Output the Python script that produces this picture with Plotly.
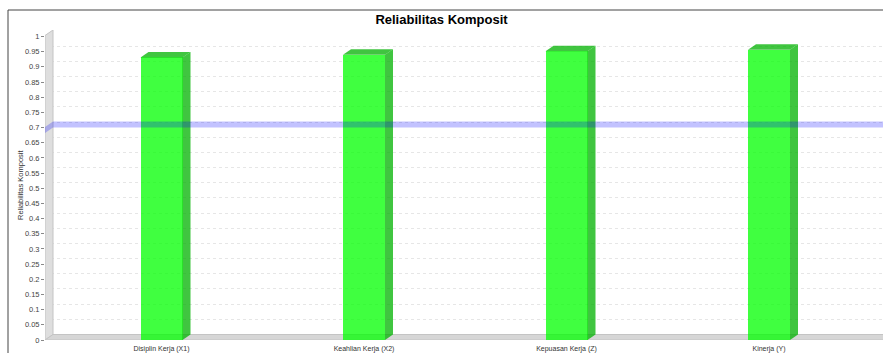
import plotly.graph_objects as go

# ---------------- data ----------------
categories = ["Disiplin Kerja (X1)", "Keahlian Kerja (X2)", "Kepuasan Kerja (Z)", "Kinerja (Y)"]
reliability = [0.931, 0.940, 0.951, 0.956]
threshold = 0.7
y_tick_values = [0, 0.05, 0.1, 0.15, 0.2, 0.25, 0.3, 0.35, 0.4, 0.45, 0.5,
                 0.55, 0.6, 0.65, 0.7, 0.75, 0.8, 0.85, 0.9, 0.95, 1]
y_tick_labels = ["0", "0.05", "0.1", "0.15", "0.2", "0.25", "0.3", "0.35", "0.4", "0.45", "0.5",
                 "0.55", "0.6", "0.65", "0.7", "0.75", "0.8", "0.85", "0.9", "0.95", "1"]
title_text = "Reliabilitas Komposit"
y_title = "Reliabilitas Komposit"

# ---------------- geometry ----------------
W, H = 883, 353
ML, MR, MT, MB = 45, 0, 30, 13
plot_w = W - ML - MR
plot_h = H - MT - MB
cat_px = 202.5          # pixels per category
first_px = 161.5        # pixel of first category centre
unit_px = 303.5         # pixels per 1.0 on value axis
x_lo = (ML - first_px) / cat_px
x_hi = (W - MR - first_px) / cat_px
y_hi = plot_h / unit_px
DX = 8 / cat_px         # 3D depth offset (x)
DY = 5.5 / unit_px      # 3D depth offset (y)
bar_w = 42 / cat_px
band_w = 6 / unit_px

FONT = "Liberation Sans, Arial, sans-serif"
xs = list(range(len(categories)))

fig = go.Figure()

# front faces
fig.add_trace(go.Bar(
    x=xs, y=reliability, width=bar_w,
    marker=dict(color="rgba(0,255,0,0.75)", line=dict(width=0)),
    hoverinfo="skip", showlegend=False,
))

# side and top faces
side_col = "rgba(0,178,0,0.75)"
for i, v in zip(xs, reliability):
    xl, xr = i - bar_w / 2, i + bar_w / 2
    fig.add_trace(go.Scatter(
        x=[xr, xr + DX, xr + DX, xr, xr], y=[0, DY, v + DY, v, 0],
        fill="toself", fillcolor=side_col, mode="lines", line=dict(width=0),
        hoverinfo="skip", showlegend=False))
    fig.add_trace(go.Scatter(
        x=[xl, xl + DX, xr + DX, xr, xl], y=[v, v + DY, v + DY, v, v],
        fill="toself", fillcolor=side_col, mode="lines", line=dict(width=0),
        hoverinfo="skip", showlegend=False))

# dummy trace for back-plane grid axis
fig.add_trace(go.Scatter(x=[x_lo], y=[0], yaxis="y2", mode="markers",
                         marker=dict(opacity=0), hoverinfo="skip", showlegend=False))

shapes = []
# left wall
shapes.append(dict(
    type="path", xref="x", yref="y", layer="between",
    path=f"M {x_lo},0 L {x_lo + DX},{DY} L {x_lo + DX},{y_hi} L {x_lo},{y_hi - DY} Z",
    fillcolor="#dedede", line=dict(color="#c4c4c4", width=1)))
# floor
shapes.append(dict(
    type="path", xref="x", yref="y", layer="between",
    path=f"M {x_lo},0 L {x_lo + DX},{DY} L {x_hi + 1},{DY} L {x_hi + 1},0 Z",
    fillcolor="#d6d6d6", line=dict(color="#c4c4c4", width=1)))
# threshold marker band
t = threshold
shapes.append(dict(
    type="path", xref="x", yref="y", layer="above",
    path=(f"M {x_lo},{t - DY} L {x_lo + DX},{t} L {x_hi + 1},{t} "
          f"L {x_hi + 1},{t + band_w} L {x_lo + DX},{t + band_w} L {x_lo},{t + band_w - DY} Z"),
    fillcolor="rgba(0,0,255,0.24)", line=dict(width=0)))
# chart border (top and left)
bx = (8 - ML) / plot_w
by = (H - MB - 10) / plot_h
shapes.append(dict(
    type="path", xref="paper", yref="paper", layer="above",
    path=f"M {bx},-0.2 L {bx},{by} L 1.2,{by}",
    line=dict(color="#444444", width=1)))

fig.update_layout(
    width=W, height=H,
    margin=dict(l=ML, r=MR, t=MT, b=MB, pad=0),
    paper_bgcolor="white", plot_bgcolor="white",
    showlegend=False,
    title=dict(text=title_text, x=0.5, xref="container", y=1 - 19 / H, yref="container",
               xanchor="center", yanchor="middle",
               font=dict(family=FONT, size=13, color="#000000", weight="bold")),
    xaxis=dict(range=[x_lo, x_hi], tickvals=xs, ticktext=categories,
               showgrid=False, zeroline=False, showline=False,
               ticks="outside", ticklen=2, tickcolor="rgba(0,0,0,0)",
               tickfont=dict(family=FONT, size=7, color="#333333"), fixedrange=True),
    yaxis=dict(range=[0, y_hi], tickvals=y_tick_values, ticktext=y_tick_labels,
               showgrid=False, zeroline=False, showline=False,
               ticks="outside", ticklen=3, tickcolor="#888888", tickwidth=1,
               tickfont=dict(family=FONT, size=7.5, color="#444444"), fixedrange=True),
    yaxis2=dict(range=[-DY, y_hi - DY], overlaying="y", tickvals=y_tick_values,
                showticklabels=False, showgrid=True, gridcolor="#e6e6e6", griddash="dot",
                gridwidth=1, zeroline=False, showline=False, ticks="", fixedrange=True),
    shapes=shapes,
    annotations=[dict(text=y_title, xref="paper", yref="paper",
                      x=(20 - ML) / plot_w, y=(H - MB - 185) / plot_h,
                      textangle=-90, showarrow=False, xanchor="center", yanchor="middle",
                      font=dict(family=FONT, size=7.5, color="#333333"))],
    bargap=0,
)

fig.write_html("out.html")
